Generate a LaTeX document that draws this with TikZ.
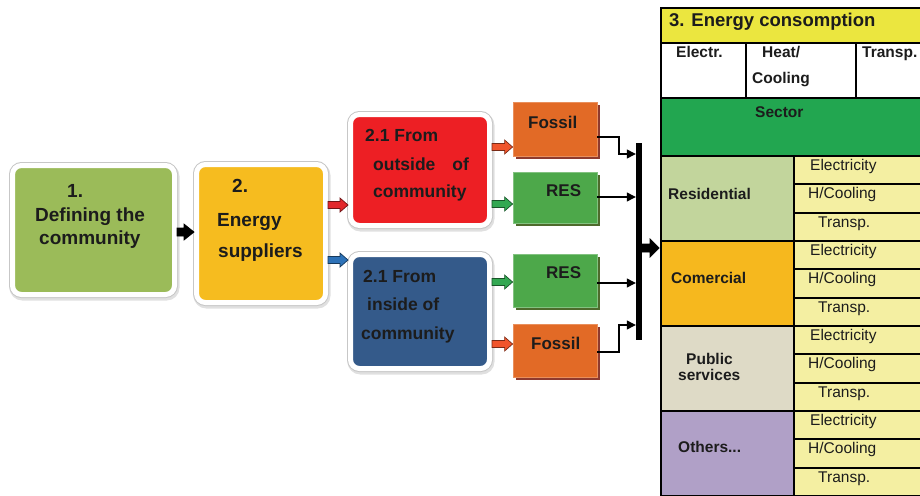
\documentclass[tikz,border=0pt]{standalone}
\usepackage{fontspec}
\setmainfont{Liberation Sans}
\usetikzlibrary{shadows,arrows.meta,calc}

\definecolor{cgreen}{HTML}{9BBB59}
\definecolor{corange}{HTML}{F6BC1F}
\definecolor{cred}{HTML}{ED1F24}
\definecolor{cblue}{HTML}{345A8A}
\definecolor{cfossil}{HTML}{E26A26}
\definecolor{cfossilsh}{HTML}{8E3A2E}
\definecolor{cres}{HTML}{4DA84A}
\definecolor{cressh}{HTML}{4E6A2C}
\definecolor{chead}{HTML}{EBE63F}
\definecolor{csector}{HTML}{22A650}
\definecolor{csub}{HTML}{F4EFA2}
\definecolor{cresid}{HTML}{C2D59C}
\definecolor{ccomm}{HTML}{F6B81E}
\definecolor{cpub}{HTML}{DEDAC6}
\definecolor{coth}{HTML}{B0A0C7}
\definecolor{ctxt}{HTML}{1C1C1C}
\definecolor{arrred}{HTML}{E2282C}
\definecolor{arrblue}{HTML}{2D72B8}
\definecolor{arrgreen}{HTML}{33A852}
\definecolor{arrorange}{HTML}{F0552C}

% block arrow between two points: #1 from, #2 to, #3 fill, #4 outline, #5 shaft half, #6 head half, #7 head length
\newcommand{\blockarr}[7]{%
  \filldraw[fill=#3, draw=#4, line width=0.7pt, line join=miter]
    let \p1=#1, \p2=#2 in
    (\x1,\y1+#5) -- (\x2-#7,\y1+#5) -- (\x2-#7,\y1+#6) -- (\x2,\y1)
    -- (\x2-#7,\y1-#6) -- (\x2-#7,\y1-#5) -- (\x1,\y1-#5) -- cycle;}

\tikzset{
  rbox/.style={rectangle, rounded corners=9pt, draw=white, line width=5pt, inner sep=0pt,
    preaction={draw=black!12, line width=8pt, transform canvas={shift={(1pt,-2pt)}}},
    preaction={draw=black!22, line width=7pt}},
  fbox/.style={rectangle, inner sep=0pt, line width=0.8pt, minimum width=84pt},
  fos/.style={fbox, fill=cfossil, draw=cfossil!75!white,
    drop shadow={shadow xshift=2.5pt, shadow yshift=-2.5pt, opacity=1, fill=cfossilsh}},
  resb/.style={fbox, fill=cres, draw=cres!70!white,
    drop shadow={shadow xshift=2.5pt, shadow yshift=-2.5pt, opacity=1, fill=cressh}},
  conn/.style={draw=black, line width=1.2pt, -{Triangle[length=9pt,width=9pt]}},
  lbl/.style={anchor=base west, inner sep=0pt, text=ctxt, font=\bfseries\fontsize{19}{23}\selectfont},
  lblm/.style={lbl, font=\bfseries\fontsize{17.5}{21}\selectfont},
  lbls/.style={lbl, font=\bfseries\fontsize{17}{20}\selectfont},
  tbl/.style={lbl, font=\bfseries\fontsize{15.5}{18}\selectfont},
  tsub/.style={lbl, font=\fontsize{15.5}{18}\selectfont},
  cell/.style={draw=black, line width=1.8pt}
}

\begin{document}
\begin{tikzpicture}[x=1pt,y=-1pt]
\useasboundingbox (0,0) rectangle (920,495);

% main rounded boxes
\node[rbox, fill=cgreen, minimum width=162pt, minimum height=129pt] (b1) at (93.5,230) {};
\node[rbox, fill=corange, minimum width=129pt, minimum height=138pt] (b2) at (261,233.5) {};
\node[rbox, fill=cred, minimum width=139pt, minimum height=111pt] (b3) at (420,170) {};
\node[rbox, fill=cblue, minimum width=139pt, minimum height=114pt] (b4) at (420,311.5) {};

% source boxes
\node[fos, minimum height=54pt] (f1) at (555,129) {};
\node[resb, minimum height=51pt] (r1) at (555,197.5) {};
\node[resb, minimum height=53pt] (r2) at (555,280.5) {};
\node[fos, minimum height=53pt] (f2) at (555,350.5) {};

% block arrows
\blockarr{(b1.east |- 0,232)}{(b2.west |- 0,232)}{black}{black}{4pt}{8pt}{10pt}
\blockarr{(b2.east |- 0,205)}{(b3.west |- 0,205)}{arrred}{arrred!50!black}{3.5pt}{7pt}{8pt}
\blockarr{(b2.east |- 0,260)}{(b4.west |- 0,260)}{arrblue}{arrblue!50!black}{3.5pt}{7pt}{8pt}
\blockarr{(b3.east |- 0,147)}{(f1.west |- 0,147)}{arrorange}{arrorange!50!black}{3.5pt}{7pt}{8pt}
\blockarr{(b3.east |- 0,204)}{(r1.west |- 0,204)}{arrgreen}{arrgreen!50!black}{3.5pt}{7pt}{8pt}
\blockarr{(b4.east |- 0,282)}{(r2.west |- 0,282)}{arrgreen}{arrgreen!50!black}{3.5pt}{7pt}{8pt}
\blockarr{(b4.east |- 0,344)}{(f2.west |- 0,344)}{arrorange}{arrorange!50!black}{3.5pt}{7pt}{8pt}

% collector bar
\node[fill=black, inner sep=0pt, minimum width=6pt, minimum height=197pt] (bar) at (639,241.5) {};
\draw[conn] (f1.east |- 0,137) -| (619,154) -- (bar.west |- 0,154);
\draw[conn] (r1.east |- 0,197) -- (bar.west |- 0,197);
\draw[conn] (r2.east |- 0,283) -- (bar.west |- 0,283);
\draw[conn] (f2.east |- 0,352) -| (619,325) -- (bar.west |- 0,325);
\coordinate (tbl) at (659,248);
\blockarr{(bar.east |- 0,248)}{(tbl)}{black}{black}{4pt}{9pt}{9pt}

% table
\filldraw[cell, fill=chead] (661,8) rectangle (925,43);
\filldraw[cell, fill=white] (661,43) rectangle (746,98);
\filldraw[cell, fill=white] (746,43) rectangle (856,98);
\filldraw[cell, fill=white] (856,43) rectangle (925,98);
\filldraw[cell, fill=csector] (661,98) rectangle (925,156);
\foreach \t/\c in {156/cresid, 241/ccomm, 326/cpub, 411/coth}{
  \filldraw[cell, fill=\c] (661,\t) rectangle (794,\t+85);
  \filldraw[cell, fill=csub] (794,\t) rectangle (925,\t+28.33);
  \filldraw[cell, fill=csub] (794,\t+28.33) rectangle (925,\t+56.67);
  \filldraw[cell, fill=csub] (794,\t+56.67) rectangle (925,\t+85);
}
\foreach \t [count=\i] in {156,241,326,411}{
  \node[tsub] (e\i) at (810,\t+14) {Electricity};
  \node[tsub] (h\i) at (808,\t+42.5) {H/Cooling};
  \node[tsub] (p\i) at (818,\t+71) {Transp.};
}

% texts
\node[lbl] (t1a) at (67,197) {1.};
\node[lbl] (t1b) at (35,221) {Defining the};
\node[lbl] (t1c) at (39,244) {community};
\node[lbl] (t2a) at (232,192) {2.};
\node[lbl] (t2b) at (217,226) {Energy};
\node[lbl] (t2c) at (218,257) {suppliers};
\node[lblm] (t3a) at (365,141) {2.1 From};
\node[lblm] (t3b) at (373,170) {outside\hspace{17pt}of};
\node[lblm] (t3c) at (373,197) {community};
\node[lblm] (t4a) at (363,282) {2.1 From};
\node[lblm] (t4b) at (367,310) {inside of};
\node[lblm] (t4c) at (361,339) {community};
\node[lbls] (tf1) at (528,128) {Fossil};
\node[lbls] (tr1) at (546,196) {RES};
\node[lbls] (tr2) at (546,278) {RES};
\node[lbls] (tf2) at (531,349) {Fossil};

\node[lbl, font=\bfseries\fontsize{18.5}{22}\selectfont] (th) at (669,27) {3. Energy consomption};
\node[tbl] (c1) at (676,58) {Electr.};
\node[tbl] (c2a) at (762,58) {Heat/};
\node[tbl] (c2b) at (752,83) {Cooling};
\node[tbl] (c3) at (862,58) {Transp.};
\node[tbl] (sec) at (755,117) {Sector};
\node[tbl] (s1) at (668,199) {Residential};
\node[tbl] (s2) at (671,283) {Comercial};
\node[tbl] (s3a) at (686,364) {Public};
\node[tbl] (s3b) at (678,380) {services};
\node[tbl] (s4) at (678,452) {Others...};
\end{tikzpicture}
\end{document}
